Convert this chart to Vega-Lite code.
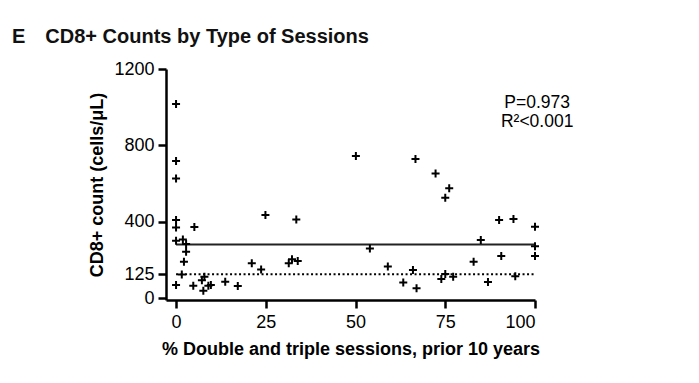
{
  "$schema": "https://vega.github.io/schema/vega-lite/v6.json",
  "width": 369,
  "height": 231,
  "autosize": {"type": "none"},
  "padding": {"left": 166, "top": 69, "right": 164, "bottom": 83},
  "background": "white",
  "config": {
    "font": "Liberation Sans",
    "view": {"stroke": null},
    "axis": {
      "grid": false,
      "domainColor": "black",
      "domainWidth": 2.5,
      "tickColor": "black",
      "tickWidth": 2.5,
      "tickSize": 8,
      "labelColor": "black",
      "labelFont": "Liberation Sans",
      "labelFontSize": 18,
      "titleColor": "black",
      "titleFont": "Liberation Sans",
      "titleFontSize": 18,
      "titleFontWeight": "bold"
    }
  },
  "title": {
    "text": "E\u2003CD8+ Counts by Type of Sessions",
    "anchor": "start",
    "frame": "group",
    "dx": -154,
    "dy": 22,
    "offset": 19,
    "baseline": "alphabetic",
    "font": "Liberation Sans",
    "fontSize": 20,
    "fontWeight": "bold",
    "color": "#111111"
  },
  "datasets": {
    "points": [
      {"pct": 0, "cd8": 1017}, {"pct": 0, "cd8": 718}, {"pct": 0, "cd8": 627},
      {"pct": 0, "cd8": 409}, {"pct": 0, "cd8": 370}, {"pct": 5.1, "cd8": 372},
      {"pct": 0, "cd8": 300}, {"pct": 1.9, "cd8": 307}, {"pct": 2.8, "cd8": 283},
      {"pct": 2.8, "cd8": 243}, {"pct": 2.2, "cd8": 190}, {"pct": 1.6, "cd8": 124},
      {"pct": 0, "cd8": 68}, {"pct": 4.8, "cd8": 65}, {"pct": 7.9, "cd8": 112},
      {"pct": 7.2, "cd8": 94}, {"pct": 7.6, "cd8": 38}, {"pct": 9.0, "cd8": 65},
      {"pct": 9.7, "cd8": 68}, {"pct": 13.7, "cd8": 86}, {"pct": 17.2, "cd8": 63},
      {"pct": 21.1, "cd8": 183}, {"pct": 23.7, "cd8": 150}, {"pct": 24.9, "cd8": 435},
      {"pct": 31.4, "cd8": 182}, {"pct": 32.3, "cd8": 203}, {"pct": 33.5, "cd8": 412},
      {"pct": 33.9, "cd8": 194}, {"pct": 50.1, "cd8": 744}, {"pct": 54, "cd8": 260},
      {"pct": 59, "cd8": 166}, {"pct": 63.3, "cd8": 82}, {"pct": 66, "cd8": 147},
      {"pct": 67, "cd8": 51}, {"pct": 66.7, "cd8": 728}, {"pct": 72.3, "cd8": 652},
      {"pct": 76.1, "cd8": 575}, {"pct": 75, "cd8": 526}, {"pct": 73.9, "cd8": 100},
      {"pct": 75, "cd8": 126}, {"pct": 77.2, "cd8": 112}, {"pct": 82.9, "cd8": 190},
      {"pct": 84.9, "cd8": 304}, {"pct": 86.9, "cd8": 84}, {"pct": 90, "cd8": 409},
      {"pct": 90.6, "cd8": 220}, {"pct": 94, "cd8": 414}, {"pct": 94.5, "cd8": 115},
      {"pct": 100, "cd8": 374}, {"pct": 100, "cd8": 272}, {"pct": 100, "cd8": 220}
    ],
    "fit": [{"pct": 0, "cd8": 281}, {"pct": 100, "cd8": 281}],
    "threshold": [{"pct": 0, "cd8": 125}, {"pct": 100, "cd8": 125}],
    "notes": [
      {"pct": 100.6, "cd8": 996, "label": "P=0.973"},
      {"pct": 100.6, "cd8": 896, "label": "R²<0.001"}
    ]
  },
  "encoding": {
    "x": {
      "field": "pct",
      "type": "quantitative",
      "scale": {"domain": [-2.8, 100], "nice": false, "zero": false},
      "axis": {
        "values": [0, 25, 50, 75, 100],
        "format": "d",
        "title": "% Double and triple sessions, prior 10 years",
        "labelPadding": 5,
        "titlePadding": 9
      }
    },
    "y": {
      "field": "cd8",
      "type": "quantitative",
      "scale": {"domain": [-10, 1200], "nice": false, "zero": false},
      "axis": {
        "values": [0, 125, 400, 800, 1200],
        "format": "d",
        "title": "CD8+ count (cells/μL)",
        "labelPadding": 4,
        "titlePadding": 7
      }
    }
  },
  "layer": [
    {
      "data": {"name": "threshold"},
      "mark": {"type": "line", "color": "black", "strokeWidth": 2, "strokeDash": [2, 2.5]},
      "encoding": {}
    },
    {
      "data": {"name": "fit"},
      "mark": {"type": "line", "color": "#222222", "strokeWidth": 2},
      "encoding": {}
    },
    {
      "data": {"name": "points"},
      "mark": {
        "type": "point",
        "shape": "M-1,0H1M0,-1V1",
        "size": 64,
        "filled": false,
        "stroke": "black",
        "strokeWidth": 2,
        "opacity": 1
      }
    },
    {
      "data": {"name": "notes"},
      "mark": {
        "type": "text",
        "align": "center",
        "baseline": "alphabetic",
        "fontSize": 17.5,
        "font": "Liberation Sans",
        "color": "black"
      },
      "encoding": {"text": {"field": "label"}}
    }
  ]
}
